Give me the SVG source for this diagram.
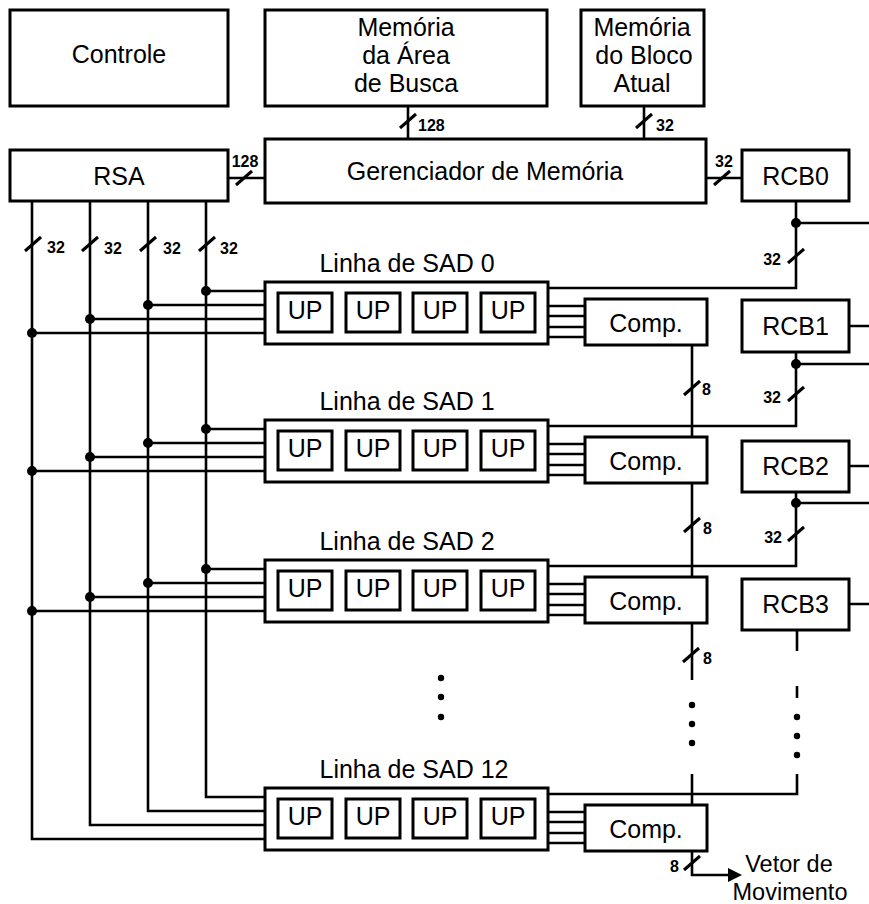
<svg xmlns="http://www.w3.org/2000/svg" xmlns:xlink="http://www.w3.org/1999/xlink" width="869" height="904" viewBox="0 0 869 904">
<style>
.box{fill:#fff;stroke:#000;stroke-width:3}
.ln{fill:none;stroke:#000;stroke-width:2.6}
.t{font-family:"Liberation Sans",Arial,sans-serif;font-size:25px;fill:#000;text-anchor:middle}
.v{font-family:"Liberation Sans",Arial,sans-serif;font-size:23.5px;fill:#000;text-anchor:middle}
.s{font-family:"Liberation Sans",Arial,sans-serif;font-size:16px;font-weight:bold;fill:#000}
.sl{stroke:#000;stroke-width:3;fill:none}
.d{fill:#000}
</style>
<defs>
<path id="sl" class="sl" d="M-8,7 L8,-7"/>
<g id="row">
<rect class="box" x="265" y="282" width="283" height="62"/>
<rect class="box" x="278" y="293" width="54" height="39"/>
<rect class="box" x="346" y="293" width="54" height="39"/>
<rect class="box" x="413" y="293" width="54" height="39"/>
<rect class="box" x="481" y="293" width="54" height="39"/>
<text class="t" x="305" y="319">UP</text>
<text class="t" x="373" y="319">UP</text>
<text class="t" x="440" y="319">UP</text>
<text class="t" x="508" y="319">UP</text>
<path class="ln" d="M548,306 H585 M548,316 H585 M548,327 H585 M548,337 H585"/>
<rect class="box" x="585" y="299" width="122" height="46"/>
<text class="t" x="646" y="332">Comp.</text>
</g>
</defs>

<g id="controle">
<rect class="box" x="10" y="10" width="218" height="96"/>
<text class="t" x="119" y="63">Controle</text>
</g>
<g id="mem-area">
<rect class="box" x="265" y="10" width="282" height="96"/>
<text class="t" x="406" y="36">Memória</text>
<text class="t" x="406" y="64">da Área</text>
<text class="t" x="406" y="92">de Busca</text>
</g>
<g id="mem-bloco">
<rect class="box" x="581" y="10" width="123" height="96"/>
<text class="t" x="642" y="36">Memória</text>
<text class="t" x="644" y="64">do Bloco</text>
<text class="t" x="642" y="92">Atual</text>
</g>
<g id="rsa">
<rect class="box" x="10" y="150" width="218" height="51"/>
<text class="t" x="119" y="184.5">RSA</text>
</g>
<g id="gerenciador">
<rect class="box" x="265" y="139" width="441" height="64"/>
<text class="t" x="485" y="180">Gerenciador de Memória</text>
</g>
<g id="rcb0">
<rect class="box" x="742" y="150" width="107" height="51"/>
<text class="t" x="795.5" y="184.5">RCB0</text>
</g>
<g id="rcb1">
<rect class="box" x="742" y="300" width="107" height="52"/>
<text class="t" x="795.5" y="335">RCB1</text>
</g>
<g id="rcb2">
<rect class="box" x="742" y="441" width="107" height="51"/>
<text class="t" x="795.5" y="475">RCB2</text>
</g>
<g id="rcb3">
<rect class="box" x="742" y="579" width="107" height="51"/>
<text class="t" x="795.5" y="613">RCB3</text>
</g>

<g id="connectors">
<path class="ln" d="M228,178 H265 M408,106 V139 M644,106 V139 M706,178 H742"/>
<use xlink:href="#sl" x="244" y="178"/>
<use xlink:href="#sl" x="408" y="121"/>
<use xlink:href="#sl" x="644" y="121"/>
<use xlink:href="#sl" x="722" y="178"/>
<text class="s" x="245" y="167" text-anchor="middle">128</text>
<text class="s" x="418" y="131">128</text>
<text class="s" x="656" y="131">32</text>
<text class="s" x="724" y="167" text-anchor="middle">32</text>

<path class="ln" d="M32,201 V839 H265 M90,201 V825 H265 M148,201 V811 H265 M206,201 V797 H265"/>
<use xlink:href="#sl" x="33" y="244"/>
<use xlink:href="#sl" x="90" y="244"/>
<use xlink:href="#sl" x="148" y="244"/>
<use xlink:href="#sl" x="207" y="244"/>
<text class="s" x="47" y="253">32</text>
<text class="s" x="104" y="254">32</text>
<text class="s" x="163" y="254">32</text>
<text class="s" x="220" y="254">32</text>
<path class="ln" d="M206,291 H265 M148,305 H265 M90,319 H265 M32,333 H265"/>
<path class="ln" d="M206,429 H265 M148,443 H265 M90,457 H265 M32,471 H265"/>
<path class="ln" d="M206,569 H265 M148,583 H265 M90,597 H265 M32,611 H265"/>
<circle class="d" cx="206" cy="291" r="5"/>
<circle class="d" cx="148" cy="305" r="5"/>
<circle class="d" cx="90" cy="319" r="5"/>
<circle class="d" cx="32" cy="333" r="5"/>
<circle class="d" cx="206" cy="429" r="5"/>
<circle class="d" cx="148" cy="443" r="5"/>
<circle class="d" cx="90" cy="457" r="5"/>
<circle class="d" cx="32" cy="471" r="5"/>
<circle class="d" cx="206" cy="569" r="5"/>
<circle class="d" cx="148" cy="583" r="5"/>
<circle class="d" cx="90" cy="597" r="5"/>
<circle class="d" cx="32" cy="611" r="5"/>

<path class="ln" d="M796,201 V288 H548 M796,223 H869"/>
<path class="ln" d="M796,352 V426 H548 M796,364 H869 M849,326 H869"/>
<path class="ln" d="M796,492 V566 H548 M796,503 H869 M849,466 H869 M849,604 H869"/>
<path class="ln" d="M797,630 V651 M797,686 V698 M797,774 V794 H548"/>
<circle class="d" cx="796" cy="223" r="5"/>
<circle class="d" cx="796" cy="364" r="5"/>
<circle class="d" cx="796" cy="503" r="5"/>
<circle class="d" cx="797" cy="717" r="3.2"/>
<circle class="d" cx="797" cy="736" r="3.2"/>
<circle class="d" cx="797" cy="755" r="3.2"/>
<use xlink:href="#sl" x="796" y="256"/>
<use xlink:href="#sl" x="796" y="394"/>
<use xlink:href="#sl" x="796" y="534"/>
<text class="s" x="781" y="265" text-anchor="end">32</text>
<text class="s" x="781" y="403" text-anchor="end">32</text>
<text class="s" x="782" y="543" text-anchor="end">32</text>

<path class="ln" d="M692,345 V437 M692,482 V577 M692,622 V680 M692,774 V806 M692,851 V875 H729"/>
<polygon class="d" points="728,868 742,875 728,882"/>
<use xlink:href="#sl" x="692" y="388"/>
<use xlink:href="#sl" x="692" y="525"/>
<use xlink:href="#sl" x="691" y="655"/>
<use xlink:href="#sl" x="692" y="863"/>
<text class="s" x="702" y="395">8</text>
<text class="s" x="703" y="534">8</text>
<text class="s" x="703" y="664">8</text>
<text class="s" x="679" y="872" text-anchor="end">8</text>
<circle class="d" cx="692" cy="705" r="3.2"/>
<circle class="d" cx="692" cy="724" r="3.2"/>
<circle class="d" cx="692" cy="743" r="3.2"/>
<circle class="d" cx="441" cy="678" r="3.2"/>
<circle class="d" cx="441" cy="697" r="3.2"/>
<circle class="d" cx="441" cy="717" r="3.2"/>
</g>

<g id="linha0">
<use xlink:href="#row"/>
<text class="t" x="407" y="272">Linha de SAD 0</text>
</g>
<g id="linha1">
<use xlink:href="#row" y="138"/>
<text class="t" x="407" y="410">Linha de SAD 1</text>
</g>
<g id="linha2">
<use xlink:href="#row" y="278"/>
<text class="t" x="407" y="550">Linha de SAD 2</text>
</g>
<g id="linha12">
<use xlink:href="#row" y="506"/>
<text class="t" x="414" y="778">Linha de SAD 12</text>
</g>

<g id="saida">
<text class="v" x="789" y="872">Vetor de</text>
<text class="v" x="790" y="900">Movimento</text>
</g>
</svg>
